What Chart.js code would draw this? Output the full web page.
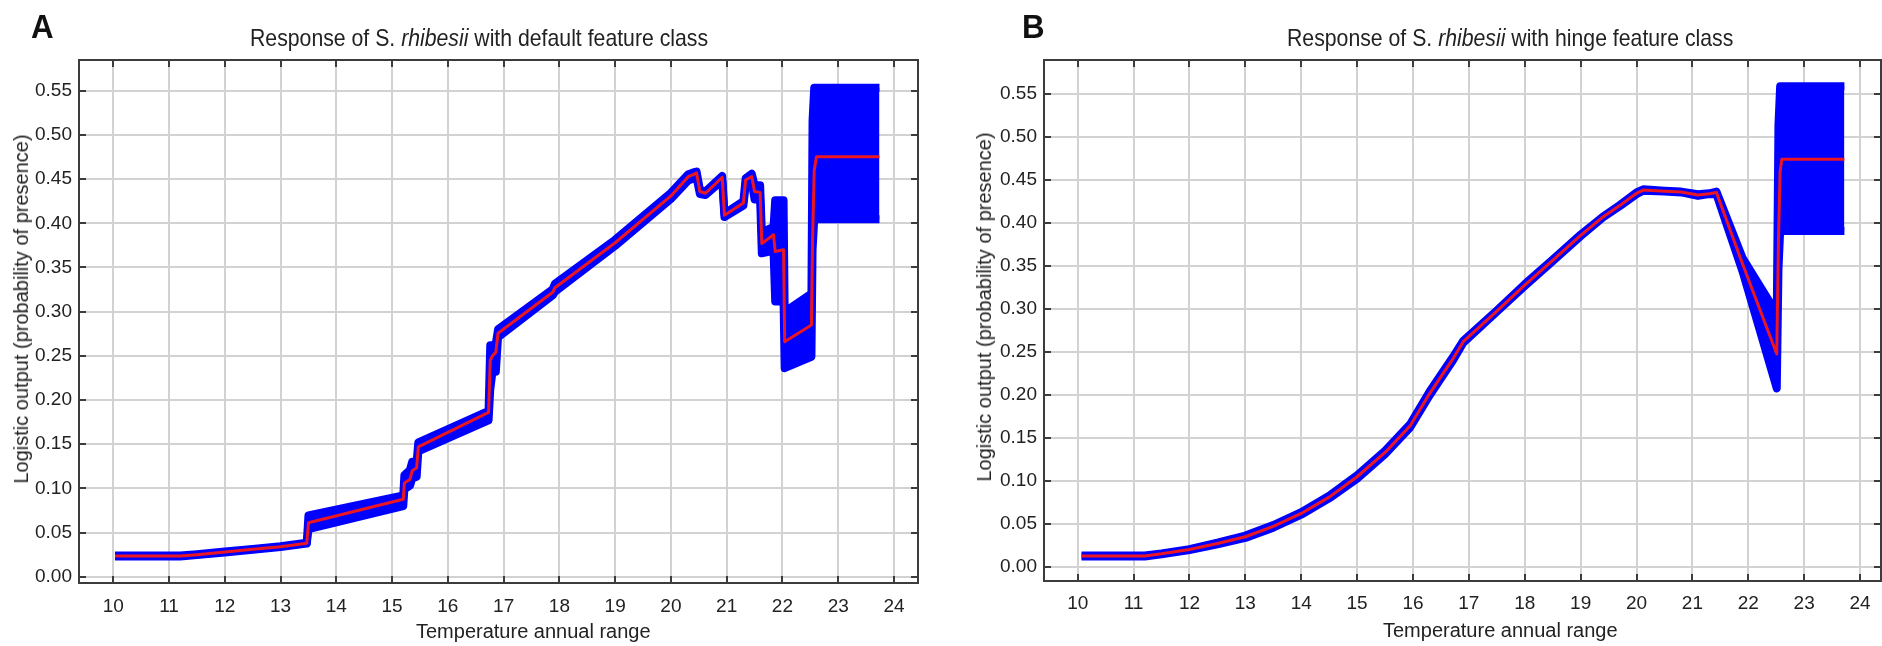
<!DOCTYPE html>
<html>
<head>
<meta charset="utf-8">
<script src="https://cdn.jsdelivr.net/npm/chart.js@4.4.1/dist/chart.umd.min.js"></script>
<style>
  html, body { margin: 0; padding: 0; background: #fff; }
  body { width: 1882px; height: 646px; overflow: hidden; position: relative; font-family: "Liberation Sans", Arial, sans-serif; color: #222; }
  canvas { position: absolute; top: 0; }
  .panel { position: absolute; font-weight: bold; font-size: 34px; line-height: 34px; transform: scaleX(0.92); transform-origin: left top; color: #111; }
  .title { position: absolute; font-size: 24px; line-height: 24px; white-space: nowrap; transform: scaleX(0.885); transform-origin: left top; }
  .xt { position: absolute; font-size: 20px; line-height: 20px; white-space: nowrap; }
  .yt { position: absolute; font-size: 20px; line-height: 20px; white-space: nowrap; transform: translate(-50%, -50%) rotate(-90deg); }
</style>
</head>
<body>
<canvas id="cA" width="941" height="646" style="left:0"></canvas>
<canvas id="cB" width="941" height="646" style="left:941px"></canvas>

<div class="panel" style="left:31px;top:9px">A</div>
<div class="panel" style="left:1022px;top:9px">B</div>
<div class="title" style="left:250px;top:26px">Response of S. <i>rhibesii</i> with default feature class</div>
<div class="title" style="left:1287px;top:26px">Response of S. <i>rhibesii</i> with hinge feature class</div>
<div class="xt" style="left:416px;top:621px">Temperature annual range</div>
<div class="xt" style="left:1383px;top:620px">Temperature annual range</div>
<div class="yt" style="left:20.6px;top:309px">Logistic output (probability of presence)</div>
<div class="yt" style="left:984px;top:307px">Logistic output (probability of presence)</div>

<script>
// ---------- tick labels ----------
const xTicks = [10, 11, 12, 13, 14, 15, 16, 17, 18, 19, 20, 21, 22, 23, 24];
const yTicks = [0.00, 0.05, 0.10, 0.15, 0.20, 0.25, 0.30, 0.35, 0.40, 0.45, 0.50, 0.55];

// ---------- A: default feature class ----------
const tempA = [10.03, 11.2, 11.5, 12.0, 12.5, 13.0, 13.47, 13.5, 15.2, 15.22, 15.32, 15.36, 15.44, 15.47, 16.73, 16.76, 16.8, 16.86, 16.9, 17.88, 17.92, 19.0, 20.0, 20.31, 20.4, 20.46, 20.52, 20.62, 20.92, 20.96, 21.3, 21.34, 21.45, 21.5, 21.6, 21.63, 21.84, 21.87, 22.02, 22.04, 22.52, 22.54, 22.57, 22.61, 23.74];
const meanA = [0.0235, 0.0235, 0.025, 0.028, 0.031, 0.034, 0.038, 0.061, 0.0876, 0.106, 0.110, 0.120, 0.123, 0.147, 0.186, 0.245, 0.250, 0.254, 0.2755, 0.322, 0.327, 0.378, 0.431, 0.4527, 0.455, 0.457, 0.436, 0.434, 0.452, 0.409, 0.423, 0.449, 0.453, 0.436, 0.435, 0.377, 0.387, 0.368, 0.370, 0.266, 0.285, 0.38, 0.46, 0.4753, 0.4753];
const lowA  = [0.0230, 0.0230, 0.0245, 0.0275, 0.0305, 0.0335, 0.0375, 0.054, 0.080, 0.099, 0.103, 0.111, 0.113, 0.142, 0.177, 0.212, 0.232, 0.232, 0.271, 0.3185, 0.3225, 0.3745, 0.4275, 0.4485, 0.4505, 0.4515, 0.433, 0.432, 0.4485, 0.407, 0.420, 0.443, 0.447, 0.427, 0.427, 0.366, 0.369, 0.3115, 0.3115, 0.236, 0.249, 0.370, 0.4045, 0.4045, 0.4045];
const highA = [0.0240, 0.0240, 0.0255, 0.0285, 0.0315, 0.0345, 0.0385, 0.0695, 0.092, 0.115, 0.121, 0.130, 0.130, 0.152, 0.1876, 0.262, 0.262, 0.264, 0.280, 0.3255, 0.3315, 0.3815, 0.4345, 0.4555, 0.4575, 0.4585, 0.438, 0.436, 0.4535, 0.411, 0.425, 0.451, 0.456, 0.443, 0.443, 0.390, 0.396, 0.426, 0.426, 0.2997, 0.3205, 0.516, 0.5535, 0.5535, 0.5535];

// ---------- B: hinge feature class ----------
const tempB = [10.07, 11.2, 11.5, 12.0, 12.5, 13.0, 13.5, 14.0, 14.5, 15.0, 15.5, 15.95, 16.3, 16.72, 16.9, 17.5, 18.0, 18.5, 19.0, 19.4, 19.7, 20.0, 20.12, 20.5, 20.8, 21.1, 21.3, 21.43, 21.9, 22.51, 22.54, 22.57, 22.6, 23.72];
const meanB = [0.0125, 0.0125, 0.015, 0.020, 0.027, 0.0349, 0.047, 0.062, 0.081, 0.1047, 0.133, 0.164, 0.2018, 0.2425, 0.2618, 0.2974, 0.3277, 0.3565, 0.3856, 0.407, 0.4202, 0.4345, 0.4383, 0.437, 0.436, 0.4325, 0.434, 0.4355, 0.352, 0.2475, 0.38, 0.46, 0.474, 0.474];
const lowB  = [0.0120, 0.0120, 0.0145, 0.0195, 0.026, 0.0335, 0.0455, 0.0605, 0.0795, 0.1025, 0.131, 0.162, 0.1995, 0.2405, 0.2605, 0.2965, 0.3265, 0.3555, 0.3845, 0.4065, 0.4195, 0.4335, 0.4375, 0.4365, 0.4355, 0.4315, 0.4335, 0.4335, 0.343, 0.2076, 0.3454, 0.3905, 0.3905, 0.3905];
const highB = [0.0130, 0.0130, 0.0155, 0.0205, 0.028, 0.0363, 0.0485, 0.0635, 0.0825, 0.1065, 0.135, 0.166, 0.2041, 0.2445, 0.2631, 0.2983, 0.3289, 0.3575, 0.3865, 0.4075, 0.4209, 0.4355, 0.4391, 0.4375, 0.4365, 0.4335, 0.4345, 0.4365, 0.359, 0.2947, 0.5138, 0.559, 0.559, 0.559];

const BLUE = 'rgb(0,0,255)';
const RED = 'rgb(236,22,34)';

const framePlugin = {
  id: 'frame',
  afterDatasetsDraw(chart) {
    const { ctx, chartArea: a, scales: { x, y } } = chart;
    const L = 7;
    ctx.save();
    ctx.strokeStyle = '#3c3c3c';
    ctx.lineWidth = 2;
    ctx.beginPath();
    x.ticks.forEach(t => {
      const p = Math.round(x.getPixelForValue(t.value));
      ctx.moveTo(p, a.top); ctx.lineTo(p, a.top + L);
      ctx.moveTo(p, a.bottom); ctx.lineTo(p, a.bottom - L);
    });
    y.ticks.forEach(t => {
      const p = Math.round(y.getPixelForValue(t.value));
      ctx.moveTo(a.left, p); ctx.lineTo(a.left + L, p);
      ctx.moveTo(a.right, p); ctx.lineTo(a.right - L, p);
    });
    ctx.stroke();
    ctx.strokeRect(a.left, a.top, a.right - a.left, a.bottom - a.top);
    ctx.restore();
  }
};

function pts(xs, ys) { return xs.map((v, i) => ({ x: v, y: ys[i] })); }

function makeChart(id, xs, mean, lo, hi, o) {
  const tickFont = { family: '"Liberation Sans", Arial, sans-serif', size: 19 };
  return new Chart(document.getElementById(id), {
    type: 'line',
    data: {
      datasets: [
        { data: pts(xs, hi), borderColor: BLUE, borderWidth: 8, pointRadius: 0, fill: false, tension: 0, order: 2, borderJoinStyle: 'round', borderCapStyle: 'butt' },
        { data: pts(xs, lo), borderColor: BLUE, borderWidth: 8, pointRadius: 0, fill: '-1', backgroundColor: BLUE, tension: 0, order: 1, borderJoinStyle: 'round', borderCapStyle: 'butt' },
        { data: pts(xs, mean), borderColor: RED, borderWidth: 3, pointRadius: 0, fill: false, tension: 0, order: 0, borderJoinStyle: 'round' }
      ]
    },
    options: {
      responsive: false,
      animation: false,
      devicePixelRatio: 1,
      layout: { padding: { top: o.top, right: o.right, left: 0, bottom: 0 } },
      plugins: { legend: { display: false }, tooltip: { enabled: false }, title: { display: false } },
      scales: {
        x: {
          type: 'linear', min: o.xMin, max: o.xMax,
          afterBuildTicks: s => { s.ticks = xTicks.map(v => ({ value: v })); },
          afterFit: s => { s.height = o.xH; },
          ticks: { autoSkip: false, maxRotation: 0, padding: o.xPad, color: '#222', font: tickFont, callback: v => String(v) },
          grid: { color: '#d2d2d2', lineWidth: 2, drawTicks: false },
          border: { display: false }
        },
        y: {
          type: 'linear', min: o.yMin, max: o.yMax,
          afterBuildTicks: s => { s.ticks = yTicks.map(v => ({ value: v })); },
          afterFit: s => { s.width = o.yW; },
          ticks: { padding: 7, color: '#222', font: tickFont, callback: v => Number(v).toFixed(2) },
          grid: { color: '#d2d2d2', lineWidth: 2, drawTicks: false },
          border: { display: false }
        }
      }
    },
    plugins: [framePlugin]
  });
}

makeChart('cA', tempA, meanA, lowA, highA, { top: 60, right: 23, yW: 79, xH: 63, xMin: 9.385, xMax: 24.431, yMin: -0.0071, yMax: 0.5848, xPad: 12 });
makeChart('cB', tempB, meanB, lowB, highB, { top: 60, right: 1, yW: 103, xH: 65, xMin: 9.397, xMax: 24.375, yMin: -0.0166, yMax: 0.5896, xPad: 11 });
</script>
</body>
</html>
